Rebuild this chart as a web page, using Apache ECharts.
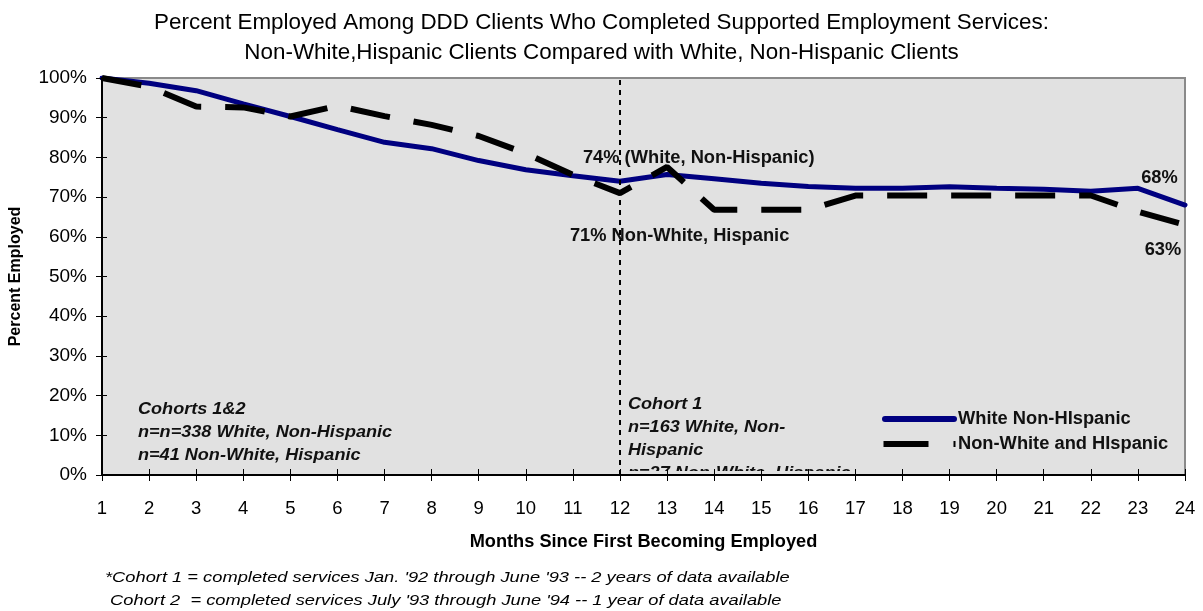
<!DOCTYPE html>
<html>
<head>
<meta charset="utf-8">
<script src="https://cdn.jsdelivr.net/npm/echarts@6/dist/echarts.min.js"></script>
<style>
  html, body { margin: 0; padding: 0; background: #ffffff; }
  #chart { width: 1203px; height: 611px; }
</style>
</head>
<body>
<div id="chart"></div>
<script>
// Months since first becoming employed
const months = [1, 2, 3, 4, 5, 6, 7, 8, 9, 10, 11, 12, 13, 14, 15, 16, 17, 18, 19, 20, 21, 22, 23, 24];
// Percent employed, White Non-Hispanic clients
const whiteNonHispanic = [100, 98.7, 96.8, 93.5, 90.3, 87.0, 83.8, 82.2, 79.2, 76.9, 75.4, 74, 75.7, 74.6, 73.5, 72.7, 72.2, 72.2, 72.6, 72.2, 72.0, 71.5, 72.2, 68];
// Percent employed, Non-White and Hispanic clients
const nonWhiteHispanic = [100, 97.8, 92.8, 92.6, 90.3, 93.0, 90.4, 88.2, 85.4, 81.0, 75.6, 71, 77.6, 66.8, 66.8, 66.8, 70.4, 70.4, 70.4, 70.4, 70.4, 70.4, 66.3, 63];
// Percent tick values on the vertical axis
const percentTicks = { min: 0, max: 100, step: 10 };

const seriesNames = ['White Non-HIspanic', 'Non-White and HIspanic'];
const titleLines = [
  'Percent Employed Among DDD Clients Who Completed Supported Employment Services:',
  'Non-White,Hispanic Clients Compared with White, Non-Hispanic Clients'
];
const cohortBoth = ['Cohorts 1&2', 'n=n=338 White, Non-Hispanic', 'n=41 Non-White, Hispanic'];
const cohortOne = ['Cohort 1', 'n=163 White, Non-', 'Hispanic', 'n=27 Non-White, Hispanic'];
const footnotes = [
  "*Cohort 1 = completed services Jan. '92 through June '93 -- 2 years of data available",
  " Cohort 2  = completed services July '93 through June '94 -- 1 year of data available"
];

const FONT = '"Liberation Sans", Arial, sans-serif';
const GRID = { left: 101, right: 18, top: 78, bottom: 136 };
const gridW = 1203 - GRID.left - GRID.right;
const gridH = 611 - GRID.top - GRID.bottom;
const PLOT_BG = '#e1e1e1';

const noteStyle = { fontFamily: FONT, fontWeight: 'bold', fontSize: 18.3, color: '#111' };
const cat = months.map(String);
const last = months.length - 1;
const cohortIdx = months.indexOf(12);

function withLabels(values, specs) {
  return values.map((v, i) => specs[i] ? { value: v, label: Object.assign({ show: true }, specs[i]) } : v);
}

const whiteData = withLabels(whiteNonHispanic, {
  [cohortIdx]: { position: 'inside', align: 'left', verticalAlign: 'middle', offset: [-37, -23],
    formatter: p => Math.round(p.value) + '% (White, Non-Hispanic)', ...noteStyle },
  [last]: { position: 'inside', align: 'center', verticalAlign: 'middle', offset: [-25.5, -27],
    formatter: p => Math.round(p.value) + '%', ...noteStyle }
});
const nonWhiteData = withLabels(nonWhiteHispanic, {
  [cohortIdx]: { position: 'inside', align: 'left', verticalAlign: 'middle', offset: [-50, 43],
    formatter: p => Math.round(p.value) + '% Non-White, Hispanic', ...noteStyle },
  [last]: { position: 'inside', align: 'center', verticalAlign: 'middle', offset: [-22, 25],
    formatter: p => Math.round(p.value) + '%', ...noteStyle }
});

function textBlock(lines, left, top, step, style, sx, z) {
  return lines.map((t, i) => ({
    type: 'text', x: left, y: top + i * step, z: z || 3, scaleX: sx,
    style: Object.assign({ text: t, fill: '#111', verticalAlign: 'middle', align: 'left' }, style)
  }));
}

const cohortFont = { font: 'italic bold 16px "Liberation Sans", Arial, sans-serif' };
const footFont = { font: 'italic 15.5px "Liberation Sans", Arial, sans-serif', fill: '#000' };

const chart = echarts.init(document.getElementById('chart'), null, { renderer: 'canvas' });
chart.setOption({
  animation: false,
  backgroundColor: '#ffffff',
  title: {
    text: titleLines.join('\n'),
    left: 'center', top: 3,
    textStyle: { fontFamily: FONT, fontWeight: 'normal', fontSize: 22.4, lineHeight: 30, color: '#000' }
  },
  grid: {
    left: GRID.left, right: GRID.right, top: GRID.top, bottom: GRID.bottom,
    show: true, backgroundColor: PLOT_BG, borderColor: '#8a8a8a', borderWidth: 2
  },
  legend: {
    orient: 'vertical', left: 882, top: 409, itemGap: 5, padding: 0,
    itemWidth: 75, itemHeight: 6,
    textStyle: { fontFamily: FONT, fontWeight: 'bold', fontSize: 18.3, lineHeight: 20, color: '#111', padding: [0, 0, 0, -4] },
    data: [
      { name: seriesNames[0], icon: 'path://M3,0H72A3,3 0 0 1 72,6H3A3,3 0 0 1 3,0Z', itemStyle: { color: '#000080' } },
      { name: seriesNames[1], icon: 'path://M0,0H45V6H0Z M70,0H72V6H70Z', itemStyle: { color: '#000' } }
    ]
  },
  xAxis: [{
    type: 'category', data: cat, boundaryGap: false, position: 'bottom', z: 10,
    name: 'Months Since First Becoming Employed', nameLocation: 'middle', nameGap: 58,
    nameTextStyle: { fontFamily: FONT, fontWeight: 'bold', fontSize: 18.2, color: '#000' },
    axisLine: { lineStyle: { color: '#000', width: 2 } },
    axisTick: { show: true, length: 6, lineStyle: { color: '#000', width: 1 } },
    axisLabel: { fontFamily: FONT, fontSize: 18.5, color: '#000', margin: 24, interval: 0 },
    splitLine: { show: false }
  }, {
    type: 'category', data: cat, boundaryGap: false, position: 'top', offset: -gridH, z: 10,
    axisLine: { show: false },
    axisTick: { show: true, length: 6, lineStyle: { color: '#000', width: 1 } },
    axisLabel: { show: false }, splitLine: { show: false }
  }],
  yAxis: [{
    type: 'value', min: percentTicks.min, max: percentTicks.max, interval: percentTicks.step, position: 'left', z: 10,
    name: 'Percent Employed', nameLocation: 'middle', nameGap: 78, nameRotate: 90,
    nameTextStyle: { fontFamily: FONT, fontWeight: 'bold', fontSize: 16, color: '#000' },
    axisLine: { show: true, lineStyle: { color: '#000', width: 2 } },
    axisTick: { show: true, length: 6, lineStyle: { color: '#000', width: 1 } },
    axisLabel: { fontFamily: FONT, fontSize: 19, color: '#000', margin: 15, formatter: '{value}%' },
    splitLine: { show: false }
  }, {
    type: 'value', min: percentTicks.min, max: percentTicks.max, interval: percentTicks.step, position: 'right', offset: -gridW, z: 10,
    axisLine: { show: false },
    axisTick: { show: true, length: 6, lineStyle: { color: '#000', width: 1 } },
    axisLabel: { show: false }, splitLine: { show: false }
  }],
  series: [{
    name: seriesNames[0], type: 'line', data: whiteData,
    symbol: 'circle', symbolSize: 0, showSymbol: true, z: 3,
    lineStyle: { color: '#000080', width: 5, cap: 'round' },
    itemStyle: { color: '#000080' },
    markLine: {
      silent: true, symbol: 'none', label: { show: false },
      lineStyle: { color: '#000', width: 2, type: [5, 5] },
      data: [{ xAxis: String(months[cohortIdx]) }]
    }
  }, {
    name: seriesNames[1], type: 'line', data: nonWhiteData,
    symbol: 'circle', symbolSize: 0, showSymbol: true, z: 4,
    lineStyle: { color: '#000', width: 6, type: [40, 24] },
    itemStyle: { color: '#000' }
  }],
  graphic: [
    ...textBlock(cohortBoth, 138, 410, 23, cohortFont, 1.13),
    ...textBlock(cohortOne, 628, 405, 23, cohortFont, 1.13),
    // the last cohort line runs into the axis: mask its lower part
    { type: 'rect', x: 623, y: 471, z: 5, shape: { width: 255, height: 4 }, style: { fill: PLOT_BG } },
    { type: 'rect', x: 623, y: 476, z: 5, shape: { width: 255, height: 14 }, style: { fill: '#ffffff' } },
    ...textBlock(footnotes, 105, 578, 23, footFont, 1.18)
  ]
});
</script>
</body>
</html>
